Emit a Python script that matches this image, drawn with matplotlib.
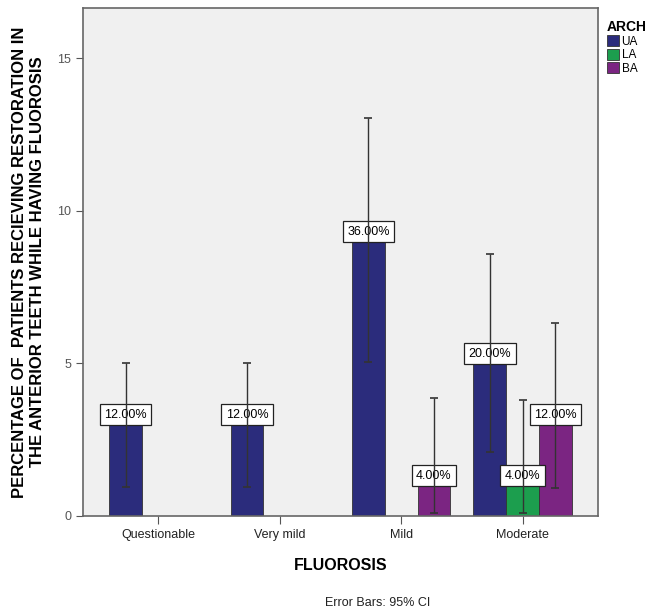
import numpy as np
import matplotlib
matplotlib.use('Agg')
import matplotlib.pyplot as plt

plt.rcParams['font.family'] = ['Liberation Sans', 'DejaVu Sans']

# data
categories = ['Questionable', 'Very mild', 'Mild', 'Moderate']
arches = ['UA', 'LA', 'BA']
values = {'UA': [3, 3, 9, 5], 'LA': [0, 0, 0, 1], 'BA': [0, 0, 1, 3]}
ci_low = {'UA': [0.95, 0.95, 5.05, 2.1], 'LA': [0, 0, 0, 0.1], 'BA': [0, 0, 0.1, 0.9]}
ci_high = {'UA': [5.0, 5.0, 13.05, 8.6], 'LA': [0, 0, 0, 3.8], 'BA': [0, 0, 3.85, 6.33]}
pct_labels = {'UA': ['12.00%', '12.00%', '36.00%', '20.00%'],
              'LA': ['', '', '', '4.00%'],
              'BA': ['', '', '4.00%', '12.00%']}
colors = {'UA': '#2b2c7c', 'LA': '#1c9e4e', 'BA': '#7b2582'}

fig = plt.figure(figsize=(6.51, 6.12), dpi=100)
ax = fig.add_axes([0.1275, 0.157, 0.791, 0.83])
ax.set_facecolor('#f0f0f0')

x = np.arange(len(categories))
w = 0.27
offsets = {'UA': -w, 'LA': 0, 'BA': w}

for a in arches:
    for i in range(len(categories)):
        v = values[a][i]
        if v == 0:
            continue
        xi = x[i] + offsets[a]
        ax.bar(xi, v, width=w, color=colors[a], edgecolor='#333333', linewidth=0.6, zorder=2)
        ax.errorbar(xi, v, yerr=[[v - ci_low[a][i]], [ci_high[a][i] - v]],
                    fmt='none', ecolor='#333333', elinewidth=1, capsize=3, capthick=1.2, zorder=4)
        ax.text(xi, v + 0.12, pct_labels[a][i], ha='center', va='bottom', fontsize=9,
                bbox=dict(boxstyle='square,pad=0.35', fc='white', ec='#222222', lw=0.9), zorder=3)

# legend-only handles
for a in arches:
    ax.bar(0, 0, color=colors[a], edgecolor='#333333', linewidth=0.6, label=a)

ax.set_xlim(-0.62, 3.62)
ax.set_ylim(0, 16.65)
ax.set_xticks(x)
ax.set_xticklabels(categories, fontsize=9, color='#222222')
ax.set_yticks([0, 5, 10, 15])
ax.tick_params(axis='y', labelsize=9, colors='#555555', length=5)
ax.tick_params(axis='x', length=6, color='#555555')
for s in ax.spines.values():
    s.set_color('#666666')
    s.set_linewidth(1.2)

ax.set_ylabel('PERCENTAGE OF  PATIENTS RECIEVING RESTORATION IN\nTHE ANTERIOR TEETH WHILE HAVING FLUOROSIS',
              fontsize=12, fontweight='bold', labelpad=9, linespacing=1.2)
ax.set_xlabel('FLUOROSIS', fontsize=11.5, fontweight='bold', labelpad=12)

leg = ax.legend(title='ARCH', loc='upper left', bbox_to_anchor=(1.008, 0.985), frameon=False,
                fontsize=8.5, handlelength=1.0, handleheight=1.0, handletextpad=0.25,
                labelspacing=0.1, borderaxespad=0)
leg.get_title().set_fontweight('bold')
leg.get_title().set_fontsize(10)
leg._legend_box.align = 'left'

fig.text(0.58, 0.01, 'Error Bars: 95% CI', ha='center', fontsize=9, color='#222222')

fig.savefig('out.png', dpi=100)
